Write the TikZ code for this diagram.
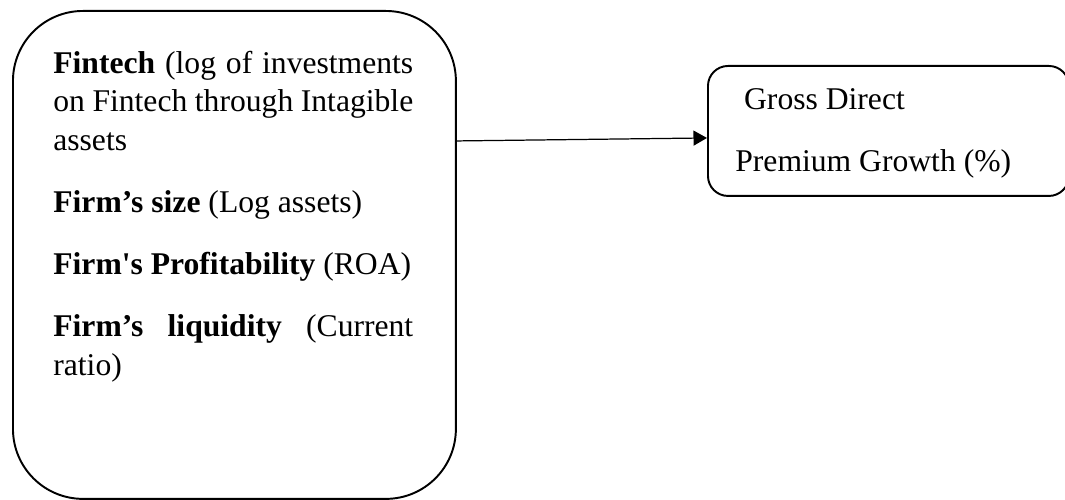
\documentclass[tikz,border=0pt]{standalone}
\usepackage{fontspec}
\setmainfont{Liberation Serif}
\usetikzlibrary{arrows.meta,positioning}

\tikzset{
  panel/.style={draw, line width=1.1pt, rounded corners=#1, inner sep=0pt},
  paneltext/.style={anchor=north west, inner sep=0pt, font=\fontsize{18}{21.8}\selectfont}
}

\begin{document}
\begin{tikzpicture}[x=0.02cm,y=-0.02cm]
\useasboundingbox (0,0) rectangle (1065,500);
% explanatory variables
\node[panel=1.4cm, anchor=north west, minimum width=8.86cm, minimum height=9.76cm] (vars) at (12,10) {};
\node[paneltext, text width=7.2cm, align=justify] (varstext) at (53,51)
  {\textbf{Fintech} (log of investments\linebreak on Fintech through Intagible\linebreak assets\par\vspace{13.6pt}
   \textbf{Firm’s size} (Log assets)\par\vspace{13.6pt}
   \textbf{Firm\textquotesingle s Profitability} (ROA)\par\vspace{13.6pt}
   \textbf{Firm’s liquidity} (Current\linebreak ratio)};
% dependent variable
\node[panel=0.4cm, anchor=north west, minimum width=7.22cm, minimum height=2.6cm] (gdp) at (707,65) {};
\node[paneltext, align=left] (gdptext) at (735,88)
  {\hspace*{5pt}Gross Direct\\[13.4pt]Premium Growth (\%)};
\draw[line width=0.7pt, -{Triangle[length=0.27cm,width=0.3cm]}] ([yshift=2.28cm]vars.east) -- ([yshift=-0.14cm]gdp.west);
\end{tikzpicture}
\end{document}
